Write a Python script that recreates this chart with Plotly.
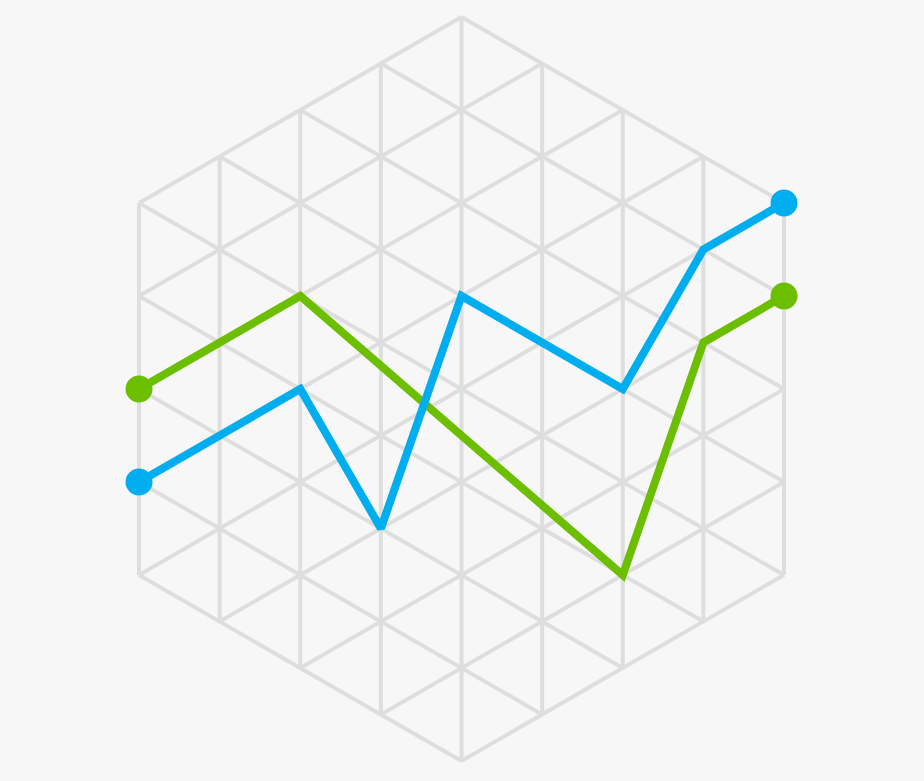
import plotly.graph_objects as go

# grid positions are in column units (x) and half-edge units (y)
blue_x = [0, 2, 3, 4, 6, 7, 8]
blue_y = [2, 4, 1, 6, 4, 7, 8]
green_x = [0, 2, 6, 7, 8]
green_y = [4, 6, 0, 5, 6]

grid_color = "#DEDEDE"
blue = "#00AEEF"
green = "#6CBE00"

fig = go.Figure()

# triangular grid clipped to the hexagon
gx, gy = [], []
for k in range(0, 9):
    gx += [k, k, None]
    gy += [max(-k, k - 8), min(k + 8, 16 - k), None]
for c in range(-8, 9, 2):
    x0, x1 = max(0, -c / 2), min(8, (16 - c) / 2)
    gx += [x0, x1, None]
    gy += [x0 + c, x1 + c, None]
for c in range(0, 17, 2):
    x0, x1 = max(0, (c - 8) / 2), min(8, (c + 8) / 2)
    gx += [x0, x1, None]
    gy += [c - x0, c - x1, None]

fig.add_trace(go.Scatter(x=gx, y=gy, mode="lines",
                         line=dict(color=grid_color, width=4),
                         hoverinfo="skip", showlegend=False))

for xs, ys, col in [(green_x, green_y, green), (blue_x, blue_y, blue)]:
    fig.add_trace(go.Scatter(x=xs, y=ys, mode="lines",
                             line=dict(color=col, width=8),
                             showlegend=False))
    fig.add_trace(go.Scatter(x=[xs[0], xs[-1]], y=[ys[0], ys[-1]], mode="markers",
                             marker=dict(color=col, size=27),
                             showlegend=False))

fig.update_layout(
    width=924, height=781,
    margin=dict(l=0, r=0, t=0, b=0),
    paper_bgcolor="#F7F7F7", plot_bgcolor="#F7F7F7",
    xaxis=dict(range=[-139 / 80.625, (924 - 139) / 80.625], visible=False, fixedrange=True),
    yaxis=dict(range=[(575 - 781) / 46.5, 575 / 46.5], visible=False, fixedrange=True),
)

fig.write_html("out.html", config={"displayModeBar": False},
               post_script="document.body.style.margin='0';document.body.style.background='#F7F7F7';")
